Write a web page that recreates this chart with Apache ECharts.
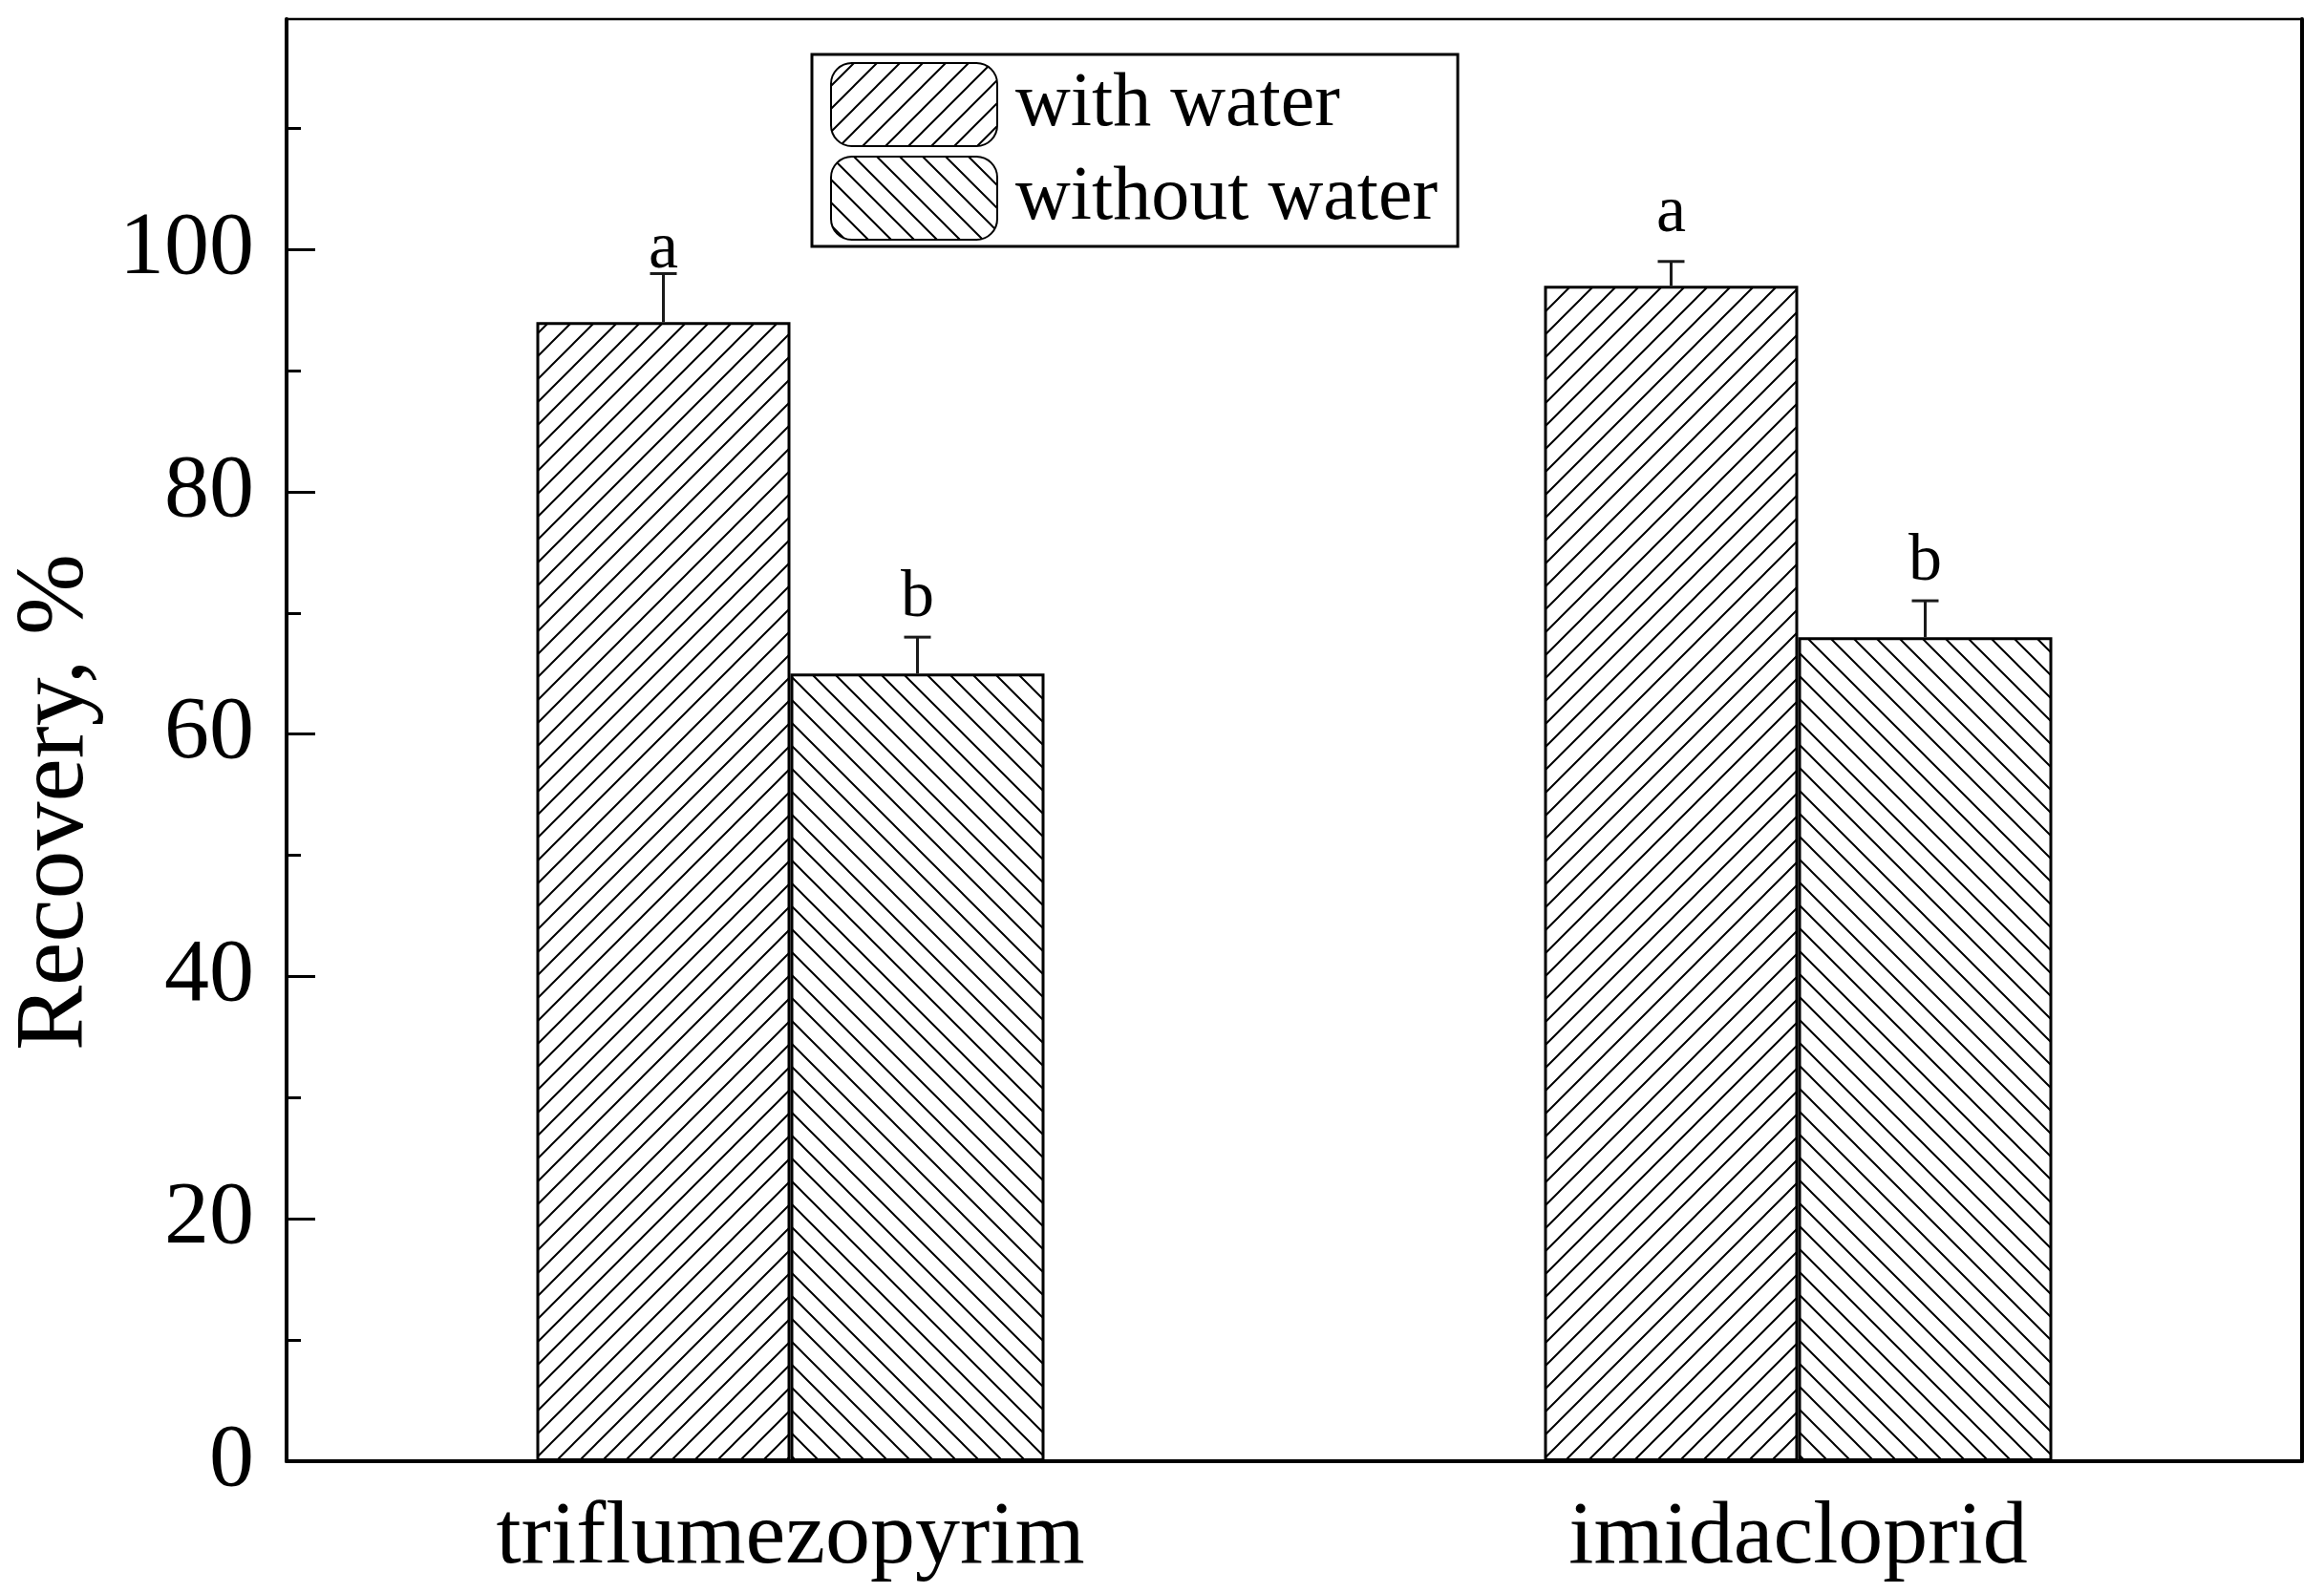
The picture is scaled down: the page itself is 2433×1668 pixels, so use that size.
<!DOCTYPE html>
<html>
<head>
<meta charset="utf-8">
<script src="https://cdn.jsdelivr.net/npm/echarts@6/dist/echarts.min.js"></script>
<style>
html,body{margin:0;padding:0;background:#fff;}
#chart{width:2433px;height:1668px;}
</style>
</head>
<body>
<div id="chart"></div>
<script>
// ---- data ----
const categories = ['triflumezopyrim', 'imidacloprid'];
const seriesNames = ['with water', 'without water'];
const withWater = [94, 97];
const withoutWater = [65, 68];
const withWaterErrTop = [98, 99];
const withoutWaterErrTop = [68, 71];
const withWaterLetters = ['a', 'a'];
const withoutWaterLetters = ['b', 'b'];
const withWaterLetterAt = [98.4, 101.4];
const withoutWaterLetterAt = [69.6, 72.6];
const majorTicks = [0, 20, 40, 60, 80, 100];
const minorTicks = [10, 30, 50, 70, 90, 110];

const FONT = '"Liberation Serif", "Times New Roman", serif';
const BAR_W = 266;

function hatch(dir) {
  const s = 24;
  const c = document.createElement('canvas');
  c.width = s; c.height = s;
  const ctx = c.getContext('2d');
  ctx.fillStyle = '#fff';
  ctx.fillRect(0, 0, s, s);
  ctx.strokeStyle = '#000';
  ctx.lineWidth = 2;
  ctx.beginPath();
  if (dir === '/') {
    ctx.moveTo(-2, s + 2); ctx.lineTo(s + 2, -2);
    ctx.moveTo(-2, 2); ctx.lineTo(2, -2);
    ctx.moveTo(s - 2, s + 2); ctx.lineTo(s + 2, s - 2);
  } else {
    ctx.moveTo(-2, -2); ctx.lineTo(s + 2, s + 2);
    ctx.moveTo(s - 2, -2); ctx.lineTo(s + 2, 2);
    ctx.moveTo(-2, s - 2); ctx.lineTo(2, s + 2);
  }
  ctx.stroke();
  return { image: c, repeat: 'repeat' };
}

function errSeries(tops, vals, letters, letterAt, offset) {
  return {
    type: 'custom',
    z: 10,
    silent: true,
    data: categories.map((c, i) => [i, vals[i], tops[i], letterAt[i]]),
    renderItem: function (params, api) {
      const ci = api.value(0);
      const p0 = api.coord([ci, api.value(1)]);
      const p1 = api.coord([ci, api.value(2)]);
      const pl = api.coord([ci, api.value(3)]);
      const x = p0[0] + offset;
      const st = { stroke: '#1a1a1a', lineWidth: 3 };
      return {
        type: 'group',
        children: [
          { type: 'line', shape: { x1: x, y1: p0[1], x2: x, y2: p1[1] }, style: st },
          { type: 'line', shape: { x1: x - 14, y1: p1[1], x2: x + 14, y2: p1[1] }, style: st },
          { type: 'text', style: { text: letters[params.dataIndex], x: x, y: pl[1] + 15,
              align: 'center', verticalAlign: 'bottom', font: '70px ' + FONT, fill: '#000' } }
        ]
      };
    }
  };
}

const chart = echarts.init(document.getElementById('chart'), null, { renderer: 'canvas' });
const yMax = 119;
chart.setOption({
  backgroundColor: '#fff',
  animation: false,
  grid: { left: 295, right: 23, top: 20, bottom: 138, show: true, borderColor: '#000', borderWidth: 2.5, backgroundColor: 'transparent' },
  legend: {
    orient: 'vertical',
    left: 850, top: 57,
    padding: [8, 21, 6, 19],
    itemWidth: 174, itemHeight: 87, itemGap: 9,
    borderColor: '#000', borderWidth: 3,
    backgroundColor: '#fff',
    textStyle: { fontFamily: FONT, fontSize: 80, color: '#000', padding: [0, 0, 0, 14] },
    data: seriesNames
  },
  xAxis: [{
    type: 'category',
    data: categories,
    axisLine: { show: true, lineStyle: { color: '#000', width: 4 } },
    axisTick: { show: false },
    axisLabel: { fontFamily: FONT, fontSize: 94, color: '#000', margin: 34 },
    splitLine: { show: false }
  }],
  yAxis: [{
    type: 'value', min: 0, max: yMax,
    name: 'Recovery, %', nameLocation: 'middle', nameRotate: 90, nameGap: 190,
    nameTextStyle: { fontFamily: FONT, fontSize: 102, color: '#000', padding: [0, 130, 0, 0] },
    axisLine: { show: true, lineStyle: { color: '#000', width: 4 } },
    axisTick: { show: true, inside: true, length: 30, lineStyle: { color: '#000', width: 3 }, customValues: majorTicks },
    axisLabel: { fontFamily: FONT, fontSize: 94, color: '#000', margin: 34, customValues: majorTicks },
    splitLine: { show: false }
  }, {
    type: 'value', min: 0, max: yMax, position: 'left',
    axisLine: { show: false },
    axisTick: { show: true, inside: true, length: 15, lineStyle: { color: '#000', width: 3 }, customValues: minorTicks },
    axisLabel: { show: false },
    splitLine: { show: false }
  }, {
    type: 'value', min: 0, max: yMax, position: 'right',
    axisLine: { show: true, onZero: false, lineStyle: { color: '#000', width: 4 } },
    axisTick: { show: false }, axisLabel: { show: false }, splitLine: { show: false }
  }],
  series: [{
    name: seriesNames[0], type: 'bar', data: withWater,
    barWidth: BAR_W, barGap: '0%',
    itemStyle: { color: hatch('/'), borderColor: '#000', borderWidth: 3 }
  }, {
    name: seriesNames[1], type: 'bar', data: withoutWater,
    barWidth: BAR_W, barGap: '0%',
    itemStyle: { color: hatch('\\'), borderColor: '#000', borderWidth: 3 }
  },
  errSeries(withWaterErrTop, withWater, withWaterLetters, withWaterLetterAt, -BAR_W / 2),
  errSeries(withoutWaterErrTop, withoutWater, withoutWaterLetters, withoutWaterLetterAt, BAR_W / 2)
  ]
});
</script>
</body>
</html>
